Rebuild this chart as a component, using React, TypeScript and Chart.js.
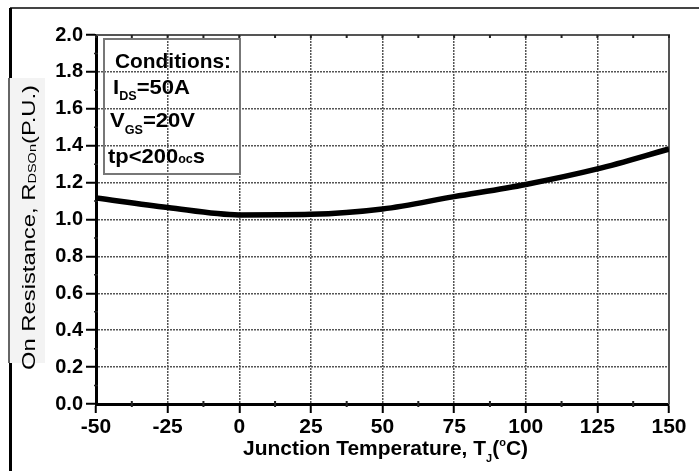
import React, { useEffect, useRef } from "react";
import { Chart, registerables } from "chart.js";

Chart.register(...registerables);

// ---- data ----
const temperatures = [-50, -25, 0, 25, 50, 75, 100, 125, 150];
const onResistance = [1.117, 1.065, 1.025, 1.028, 1.057, 1.124, 1.19, 1.274, 1.382];
const xTickStep = 25;
const yTickStep = 0.2;
const legendLines = ["Conditions:", "I|DS|=50A", "V|GS|=20V", "tp<200|ocs"];

const FAM = "'Liberation Sans', Arial, Helvetica, sans-serif";

type Seg = { t: string; font: string; dy: number };

function drawRuns(ctx: CanvasRenderingContext2D, x: number, y: number, segs: Seg[], targetWidth?: number) {
  let total = 0;
  const widths: number[] = [];
  for (const s of segs) {
    ctx.font = s.font;
    const w = ctx.measureText(s.t).width;
    widths.push(w);
    total += w;
  }
  const sc = targetWidth ? targetWidth / total : 1;
  ctx.save();
  ctx.translate(x, y);
  ctx.scale(sc, 1);
  ctx.textBaseline = "alphabetic";
  ctx.textAlign = "left";
  ctx.fillStyle = "#000";
  let cx = 0;
  segs.forEach((s, i) => {
    ctx.font = s.font;
    ctx.fillText(s.t, cx, s.dy);
    cx += widths[i];
  });
  ctx.restore();
}

const decorPlugin = {
  id: "decor",
  beforeDraw(chart: any) {
    const ctx: CanvasRenderingContext2D = chart.ctx;
    ctx.save();
    ctx.fillStyle = "#fff";
    ctx.fillRect(0, 0, chart.width, chart.height);
    // faint patch behind y title
    ctx.fillStyle = "#f3f3f3";
    ctx.fillRect(9, 78, 36, 285);
    // outer frame
    ctx.strokeStyle = "#444";
    ctx.lineWidth = 2;
    ctx.beginPath();
    ctx.moveTo(10, 8);
    ctx.lineTo(chart.width, 8);
    ctx.stroke();
    ctx.strokeStyle = "#000";
    ctx.lineWidth = 3;
    ctx.beginPath();
    ctx.moveTo(10.5, 8);
    ctx.lineTo(10.5, 78);
    ctx.moveTo(10.5, 363);
    ctx.lineTo(10.5, chart.height);
    ctx.stroke();
    ctx.strokeStyle = "#666";
    ctx.lineWidth = 2;
    ctx.beginPath();
    ctx.moveTo(9, 78);
    ctx.lineTo(9, 363);
    ctx.stroke();
    ctx.restore();
  },
  beforeDatasetsDraw(chart: any) {
    const ctx: CanvasRenderingContext2D = chart.ctx;
    const a = chart.chartArea;
    const xs = chart.scales.x;
    const ys = chart.scales.y;
    ctx.save();
    // top & right borders
    ctx.strokeStyle = "#555";
    ctx.lineWidth = 2;
    ctx.beginPath();
    ctx.moveTo(a.left, a.top);
    ctx.lineTo(a.right, a.top);
    ctx.lineTo(a.right, a.bottom);
    ctx.stroke();
    // minor ticks
    ctx.strokeStyle = "#222";
    ctx.lineWidth = 2;
    ctx.beginPath();
    for (let v = xs.min; v <= xs.max + 0.001; v += xTickStep / 2) {
      const px = xs.getPixelForValue(v);
      ctx.moveTo(px, a.top);
      ctx.lineTo(px, a.top + 3);
      if (Math.abs((v - xs.min) % xTickStep) > 0.001) {
        ctx.moveTo(px, a.bottom - 3);
        ctx.lineTo(px, a.bottom + 3);
      }
    }
    ctx.stroke();
    ctx.lineWidth = 1.5;
    ctx.beginPath();
    for (let v = ys.min + yTickStep / 2; v < ys.max; v += yTickStep) {
      const py = ys.getPixelForValue(v);
      ctx.moveTo(a.left - 2, py);
      ctx.lineTo(a.left + 2, py);
    }
    ctx.stroke();
    // legend box
    ctx.strokeStyle = "#777";
    ctx.lineWidth = 2;
    ctx.strokeRect(104, 39, 136, 135);
    ctx.restore();
  },
  afterDraw(chart: any) {
    const ctx: CanvasRenderingContext2D = chart.ctx;
    const B = (s: number) => `bold ${s}px ${FAM}`;
    const R = (s: number) => `${s}px ${FAM}`;
    // legend text
    drawRuns(ctx, 115, 68, [{ t: legendLines[0], font: B(21), dy: 0 }], 116);
    const l1 = legendLines[1].split("|");
    drawRuns(ctx, 113, 94, [
      { t: l1[0], font: B(21), dy: 0 },
      { t: l1[1], font: B(12), dy: 6 },
      { t: l1[2], font: B(21), dy: 0 },
    ], 77);
    const l2 = legendLines[2].split("|");
    drawRuns(ctx, 110, 127, [
      { t: l2[0], font: B(21), dy: 0 },
      { t: l2[1], font: B(12), dy: 7 },
      { t: l2[2], font: B(21), dy: 0 },
    ], 85);
    const l3 = legendLines[3].split("|");
    drawRuns(ctx, 108, 163, [
      { t: l3[0], font: B(21), dy: 0 },
      { t: l3[1].slice(0, 2), font: B(12), dy: 0 },
      { t: l3[1].slice(2), font: B(21), dy: 0 },
    ], 97);
    // x axis title
    drawRuns(ctx, 243, 455, [
      { t: "Junction Temperature, T", font: B(21), dy: 0 },
      { t: "J", font: B(11), dy: 7 },
      { t: "(", font: B(21), dy: 0 },
      { t: "o", font: B(11), dy: -9 },
      { t: "C)", font: B(21), dy: 0 },
    ], 285);
    // y axis title
    ctx.save();
    ctx.translate(35, 370);
    ctx.rotate(-Math.PI / 2);
    drawRuns(ctx, 0, 0, [
      { t: "On Resistance, R", font: R(18), dy: 0 },
      { t: "DSOn", font: R(11), dy: 1 },
      { t: "(P.U.)", font: R(18), dy: 0 },
    ], 285);
    ctx.restore();
  },
};

export default function App() {
  const ref = useRef<HTMLCanvasElement | null>(null);
  useEffect(() => {
    if (!ref.current) return;
    const chart = new Chart(ref.current, {
      type: "line",
      data: {
        datasets: [
          {
            data: temperatures.map((t, i) => ({ x: t, y: onResistance[i] })),
            borderColor: "#000",
            borderWidth: 5.5,
            pointRadius: 0,
            cubicInterpolationMode: "monotone",
            fill: false,
          },
        ],
      },
      options: {
        animation: false,
        responsive: true,
        maintainAspectRatio: false,
        layout: { padding: { top: 35, right: 30, left: 0, bottom: 0 } },
        plugins: { legend: { display: false }, tooltip: { enabled: false }, title: { display: false } },
        scales: {
          x: {
            type: "linear",
            min: -50,
            max: 150,
            afterFit: (s: any) => { s.height = 67; },
            ticks: {
              stepSize: xTickStep,
              color: "#000",
              font: { family: FAM, size: 21, weight: "bold" },
              padding: 2,
              maxRotation: 0,
              autoSkip: false,
            },
            grid: { color: "#555", lineWidth: 1.5, tickColor: "#000", tickWidth: 2, tickLength: 9 },
            border: { color: "#000", width: 3, dash: [2, 1] },
          },
          y: {
            type: "linear",
            min: 0,
            max: 2,
            afterFit: (s: any) => { s.width = 96; },
            ticks: {
              stepSize: yTickStep,
              color: "#000",
              font: { family: FAM, size: 20, weight: "bold" },
              padding: 3,
              autoSkip: false,
              callback: (v: any) => Number(v).toFixed(1),
            },
            grid: { color: "#555", lineWidth: 1.5, tickColor: "#000", tickWidth: 2, tickLength: 10 },
            border: { color: "#000", width: 3, dash: [2, 1] },
          },
        },
      },
      plugins: [decorPlugin],
    });
    return () => chart.destroy();
  }, []);
  return (
    <div style={{ position: "fixed", left: 0, top: 0, width: 699, height: 471, background: "#fff" }}>
      <canvas ref={ref} />
    </div>
  );
}
